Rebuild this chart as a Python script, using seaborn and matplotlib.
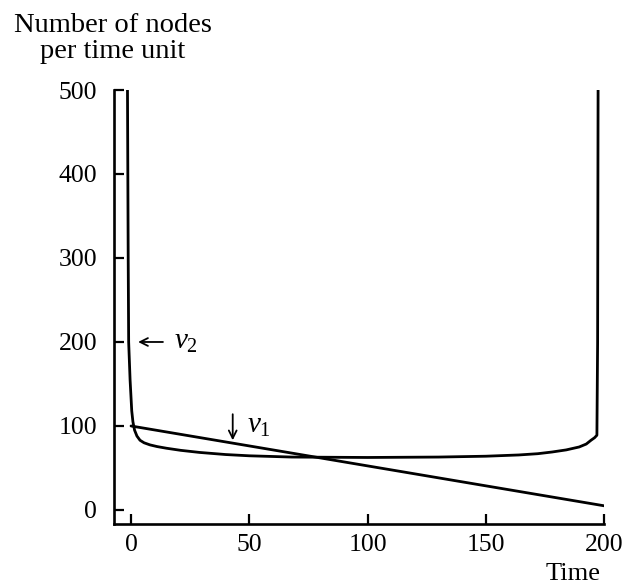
import matplotlib
matplotlib.use("Agg")
import matplotlib.pyplot as plt
import seaborn as sns
import pandas as pd

# ---- data ----
nu1_x = [0, 200]
nu1_y = [100, 5]

nu2_x = [-1.5, -1.2, -1.0, -0.4, 0.3, 0.8, 1.5, 2.5, 3.8, 5.5, 8, 11, 15, 21, 29,
         40, 50, 68, 100, 130, 150, 164, 172, 178, 184, 189.5, 192.5, 194.5,
         196.0, 197.0, 197.3, 197.5]
nu2_y = [500, 300, 200, 155, 118, 105, 95, 88, 83, 80, 77.5, 75.5, 73.5, 71,
         68.5, 66, 64.5, 63, 62.5, 63, 64, 65.5, 67, 69, 71.5, 75, 78.5, 83,
         86, 89, 200, 500]

x_ticks = [0, 50, 100, 150, 200]
y_ticks = [0, 100, 200, 300, 400, 500]

sns.set_theme(style="ticks")
plt.rcParams["font.family"] = ["Liberation Serif", "DejaVu Serif"]
plt.rcParams["text.color"] = "black"
plt.rcParams["mathtext.fontset"] = "custom"
plt.rcParams["mathtext.rm"] = "Liberation Serif"
plt.rcParams["mathtext.it"] = "Liberation Serif:italic"

fig = plt.figure(figsize=(6.24, 5.84), dpi=100)
ax = fig.add_axes([114 / 624, 60 / 584, 490 / 624, 434 / 584])

d1 = pd.DataFrame({"x": nu1_x, "y": nu1_y})
d2 = pd.DataFrame({"x": nu2_x, "y": nu2_y})
sns.lineplot(data=d1, x="x", y="y", ax=ax, color="black", lw=2.0, sort=False, estimator=None)
sns.lineplot(data=d2, x="x", y="y", ax=ax, color="black", lw=2.0, sort=False, estimator=None)

ax.set_xlim(-7.2, 200)
ax.set_ylim(-16.7, 500)
ax.set_xticks(x_ticks)
ax.set_yticks(y_ticks)
ax.set_xticklabels([str(v) for v in x_ticks])
ax.set_yticklabels([str(v) for v in y_ticks])
ax.tick_params(direction="in", length=7, width=1.6, labelsize=18.5, colors="black")
ax.tick_params(axis="y", pad=12)
ax.tick_params(axis="x", pad=7)
ax.set_xlabel("")
ax.set_ylabel("")
for s in ["top", "right"]:
    ax.spines[s].set_visible(False)
for s in ["left", "bottom"]:
    ax.spines[s].set_linewidth(1.9)
    ax.spines[s].set_color("black")

# nu2 label with left arrow
ax.annotate("", xy=(3.0, 200), xytext=(13.5, 200),
            arrowprops=dict(arrowstyle="->", lw=1.3, color="black",
                            mutation_scale=14, shrinkA=0, shrinkB=0))
ax.text(18.0, 200, r"$\nu_2$", fontsize=21, va="center", ha="left", color="black")
# nu1 label with down arrow
ax.annotate("", xy=(43, 83), xytext=(43, 114),
            arrowprops=dict(arrowstyle="->", lw=1.3, color="black",
                            mutation_scale=14, shrinkA=0, shrinkB=0))
ax.text(49, 100, r"$\nu_1$", fontsize=21, va="center", ha="left", color="black")

fig.text(113 / 624, 1 - 32 / 584, "Number of nodes", fontsize=20.5, ha="center", va="baseline", color="black")
fig.text(113 / 624, 1 - 58 / 584, "per time unit", fontsize=20.5, ha="center", va="baseline", color="black")
fig.text(573 / 624, 1 - 580 / 584, "Time", fontsize=19, ha="center", va="baseline", color="black")

fig.savefig("out.png", dpi=100, facecolor="white")
